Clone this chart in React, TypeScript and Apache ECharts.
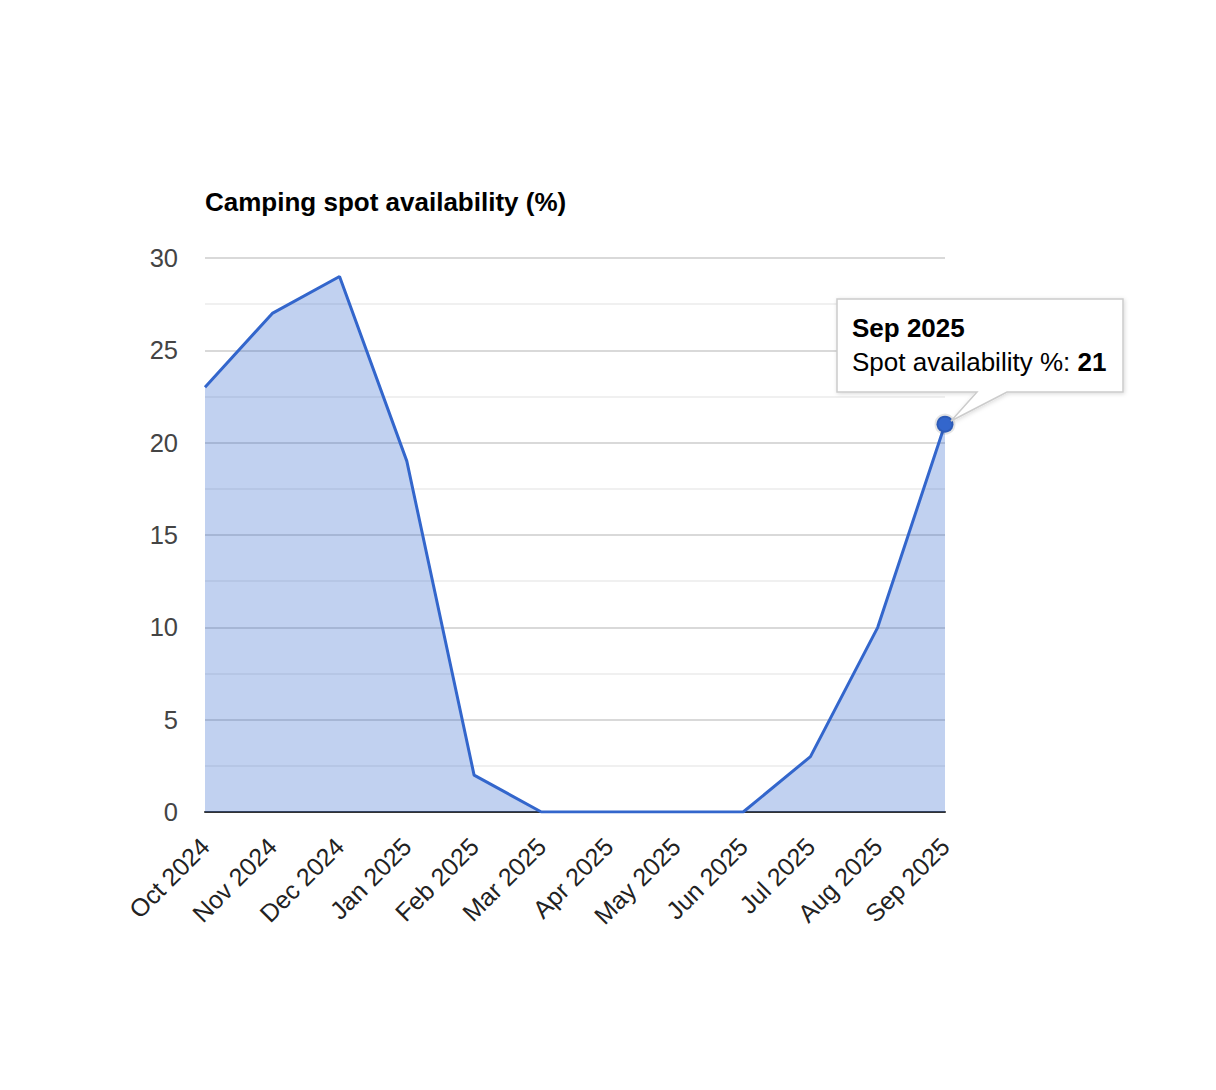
import React, { useEffect, useRef } from "react";
import * as echarts from "echarts";

const months = [
  "Oct 2024", "Nov 2024", "Dec 2024", "Jan 2025", "Feb 2025", "Mar 2025",
  "Apr 2025", "May 2025", "Jun 2025", "Jul 2025", "Aug 2025", "Sep 2025",
];
const availability = [23, 27, 29, 19, 2, 0, 0, 0, 0, 3, 10, 21];
const highlightIndex = 11;
const chartTitle = "Camping spot availability (%)";
const seriesName = "Spot availability %";

const FONT = "'Liberation Sans', Arial, sans-serif";

export default function App() {
  const ref = useRef<HTMLDivElement>(null);
  useEffect(() => {
    if (!ref.current) return;
    const chart = echarts.init(ref.current, undefined, { renderer: "svg" });
    const highlighted = availability.map((v, i) => (i === highlightIndex ? v : null));
    chart.setOption({
      animation: false,
      textStyle: { fontFamily: FONT },
      grid: { left: 205, right: 271, top: 258, bottom: 278, containLabel: false },
      title: {
        text: chartTitle,
        left: 200,
        top: 184,
        textStyle: { fontFamily: FONT, fontSize: 26, fontWeight: "bold", color: "#000" },
      },
      xAxis: {
        type: "category",
        data: months,
        boundaryGap: false,
        axisLine: { show: true, lineStyle: { color: "#333", width: 2 } },
        axisTick: { show: false },
        splitLine: { show: false },
        axisLabel: {
          rotate: 45,
          interval: 0,
          margin: 30,
          fontSize: 25,
          color: "#222",
          fontFamily: FONT,
        },
      },
      yAxis: {
        type: "value",
        min: 0,
        max: 30,
        interval: 5,
        axisLine: { show: false },
        axisTick: { show: false },
        axisLabel: { fontSize: 25.5, color: "#444", margin: 27, fontFamily: FONT },
        splitLine: { show: true, lineStyle: { color: "#cccccc", width: 1.5 } },
        minorTick: { show: false, splitNumber: 2 },
        minorSplitLine: { show: true, lineStyle: { color: "#ebebeb", width: 1.5 } },
      },
      series: [
        {
          name: seriesName,
          type: "line",
          data: availability,
          symbol: "none",
          lineStyle: { color: "#3366CC", width: 3 },
          areaStyle: { color: "#3366CC", opacity: 0.3 },
          z: 2,
        },
        {
          name: seriesName,
          type: "scatter",
          data: highlighted,
          symbol: "circle",
          symbolSize: 17,
          itemStyle: {
            color: "#3366CC",
            opacity: 1,
            borderColor: "rgba(0,0,0,0.1)",
            borderWidth: 4,
          },
          z: 5,
        },
      ],
      graphic: [
        {
          type: "polygon",
          z: 100,
          shape: {
            points: [
              [837, 299], [1123, 299], [1123, 392], [1007, 392],
              [951, 421], [977, 392], [837, 392],
            ],
          },
          style: {
            fill: "#fff",
            stroke: "#cccccc",
            lineWidth: 1.5,
            shadowBlur: 4,
            shadowColor: "rgba(0,0,0,0.15)",
            shadowOffsetX: 1,
            shadowOffsetY: 1,
          },
        },
        {
          type: "text",
          z: 101,
          x: 852,
          y: 328,
          style: {
            text: months[highlightIndex],
            font: `bold 26px ${FONT}`,
            fill: "#000",
            verticalAlign: "middle",
          },
        },
        {
          type: "text",
          z: 101,
          x: 852,
          y: 362,
          style: {
            text: `{a|${seriesName}: }{b|${availability[highlightIndex]}}`,
            verticalAlign: "middle",
            rich: {
              a: { fontFamily: FONT, fontSize: 26, color: "#000" },
              b: { fontFamily: FONT, fontSize: 26, fontWeight: "bold", color: "#000" },
            },
          },
        },
      ],
    });
    return () => chart.dispose();
  }, []);
  return (
    <div
      ref={ref}
      style={{ position: "absolute", left: 0, top: 0, width: 1216, height: 1090, background: "#fff" }}
    />
  );
}
